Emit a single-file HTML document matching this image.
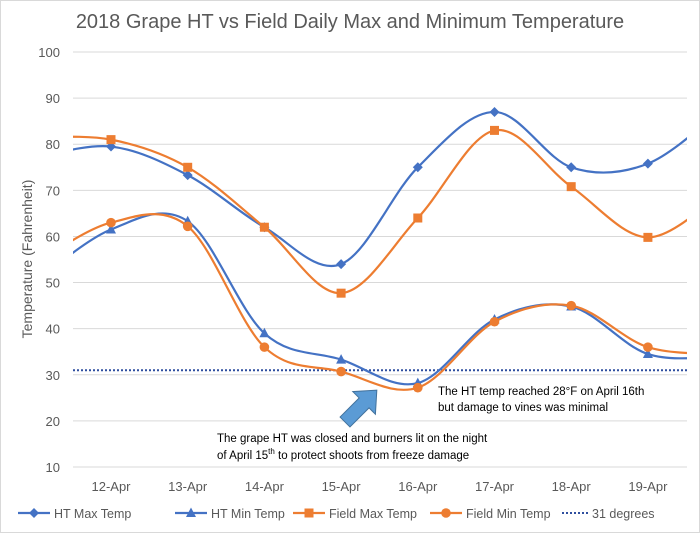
<!DOCTYPE html>
<html><head><meta charset="utf-8"><style>
body{margin:0;background:#fff}
svg{display:block;font-family:"Liberation Sans",sans-serif}
</style></head><body>
<svg id="s" width="700" height="533" viewBox="0 0 700 533" xmlns="http://www.w3.org/2000/svg">
<rect x="0.5" y="0.5" width="699" height="532" fill="#fff" stroke="#d9d9d9"/>
<text x="350" y="28" text-anchor="middle" font-size="20" fill="#595959">2018 Grape HT vs Field Daily Max and Minimum Temperature</text>
<g id="grid" stroke="#d9d9d9" stroke-width="1"></g>
<g id="yl" font-size="13" fill="#595959" text-anchor="end"></g>
<g id="xl" font-size="13" fill="#595959" text-anchor="middle"></g>
<text transform="translate(32,259) rotate(-90)" text-anchor="middle" font-size="14" fill="#595959">Temperature (Fahrenheit)</text>
<defs><clipPath id="c"><rect x="73" y="40" width="614" height="440"/></clipPath></defs>
<line x1="73" y1="370.2" x2="687" y2="370.2" stroke="#2f4f9f" stroke-width="2" stroke-dasharray="2,2"/>
<g id="series" clip-path="url(#c)"></g>
<polygon transform="translate(345,422) rotate(-45)" points="0,-7 27,-7 27,-16 45,0 27,16 27,7 0,7" fill="#5b9bd5" stroke="#41719c" stroke-width="1"/>
<g font-size="11.5" fill="#000">
<text x="438" y="395">The HT temp reached 28°F on April 16th</text>
<text x="438" y="411">but damage to vines was minimal</text>
<text x="217" y="442">The grape HT was closed and burners lit on the night</text>
<text x="217" y="459">of April 15<tspan font-size="8" dy="-5">th</tspan><tspan dy="5"> to protect shoots from freeze damage</tspan></text>
</g>
<g id="leg" font-size="12.5" fill="#595959"></g>
</svg>
<script>
const s=document.getElementById('s');
const NS="http://www.w3.org/2000/svg";
function el(p,t,a,txt){const e=document.createElementNS(NS,t);for(const k in a)e.setAttribute(k,a[k]);if(txt!==undefined)e.textContent=txt;document.getElementById(p).appendChild(e);return e;}
const Y=v=>467-(v-10)*4.611;
for(let v=10;v<=100;v+=10){el('grid','line',{x1:73,x2:687,y1:Y(v),y2:Y(v)});el('yl','text',{x:60,y:Y(v)+5},v);}
const X=i=>111+i*76.7;
const days=['12-Apr','13-Apr','14-Apr','15-Apr','16-Apr','17-Apr','18-Apr','19-Apr'];
days.forEach((d,i)=>el('xl','text',{x:X(i),y:491},d));
const blue='#4472c4',orange='#ed7d31';
const S=[
{c:blue,m:'d',d:[77,79.5,73.3,62,54,75,87,75,75.8,88]},
{c:blue,m:'t',d:[50,61.5,63.3,39,33.3,28.2,42,44.8,34.5,34]},
{c:orange,m:'s',d:[81.5,81,75,62,47.7,64,83,70.8,59.8,70]},
{c:orange,m:'o',d:[54,63,62.2,36,30.7,27.2,41.5,45,36,34.5]}];
function path(pts){let d=`M${pts[0][0]},${pts[0][1]}`;for(let i=0;i<pts.length-1;i++){const p0=pts[Math.max(0,i-1)],p1=pts[i],p2=pts[i+1],p3=pts[Math.min(pts.length-1,i+2)];const t=1/6;d+=` C${p1[0]+(p2[0]-p0[0])*t},${p1[1]+(p2[1]-p0[1])*t} ${p2[0]-(p3[0]-p1[0])*t},${p2[1]-(p3[1]-p1[1])*t} ${p2[0]},${p2[1]}`;}return d;}
function marker(g,m,x,y,c){
 if(m=='d')el(g,'polygon',{points:`${x},${y-5} ${x+5},${y} ${x},${y+5} ${x-5},${y}`,fill:c});
 if(m=='t')el(g,'polygon',{points:`${x},${y-5.5} ${x+5},${y+4} ${x-5},${y+4}`,fill:c});
 if(m=='s')el(g,'rect',{x:x-4.5,y:y-4.5,width:9,height:9,fill:c});
 if(m=='o')el(g,'circle',{cx:x,cy:y,r:4.8,fill:c});
}
S.forEach(o=>{const pts=o.d.map((v,i)=>[X(i-1),Y(v)]);el('series','path',{d:path(pts),fill:'none',stroke:o.c,'stroke-width':2.2});
 o.d.slice(1,9).forEach((v,i)=>marker('series',o.m,X(i),Y(v),o.c));});
const L=[[blue,'d','HT Max Temp',18],[blue,'t','HT Min Temp',175],[orange,'s','Field Max Temp',293],[orange,'o','Field Min Temp',430]];
L.forEach(([c,m,t,x])=>{el('leg','line',{x1:x,x2:x+32,y1:513,y2:513,stroke:c,'stroke-width':2.2});marker('leg',m,x+16,513,c);el('leg','text',{x:x+36,y:518},t);});
el('leg','line',{x1:562,x2:588,y1:513,y2:513,stroke:'#2f4f9f','stroke-width':2,'stroke-dasharray':'2,2'});
el('leg','text',{x:592,y:518},'31 degrees');
</script>
</body></html>
